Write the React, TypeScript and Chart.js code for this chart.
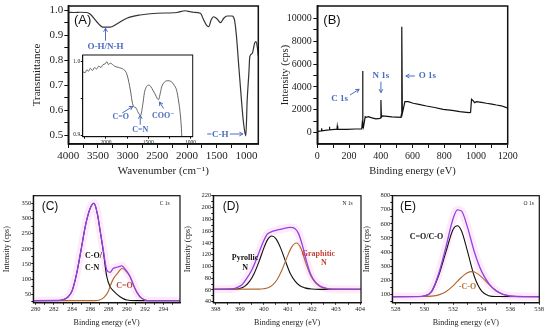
import React, { useEffect, useRef } from "react";
import { Chart, registerables } from "chart.js";
Chart.register(...registerables);

const SERIF = '"Liberation Serif", "DejaVu Serif", serif';
const SANS = '"Liberation Sans", Arial, sans-serif';
const BLUE = "#4a6cc0";
const PURPLE = "#8e44e0";
const ORANGE = "#b0652a";
const GLOW = "rgba(255,150,235,0.2)";

// ---------- Panel A : FTIR ----------
const ftirWavenumber = [4000, 3900, 3800, 3690, 3634, 3521, 3410, 3297, 3184, 3015, 2791, 2509, 2172, 2032, 1944, 1892, 1775, 1720, 1662, 1635, 1595, 1551, 1493, 1437, 1382, 1324, 1240, 1201, 1167, 1128, 1088, 1054, 1027, 1010, 987, 959, 943, 902, 863, 841, 818, 800];
const ftirTransmittance = [0.992, 0.991, 0.992, 0.991, 0.985, 0.954, 0.932, 0.932, 0.945, 0.968, 0.981, 0.988, 0.991, 0.998, 0.994, 0.992, 0.988, 0.961, 0.937, 0.934, 0.961, 0.974, 0.965, 0.95, 0.968, 0.977, 0.977, 0.961, 0.894, 0.773, 0.653, 0.559, 0.512, 0.497, 0.64, 0.747, 0.814, 0.827, 0.867, 0.874, 0.854, 0.818];
const ftirXMajor = [4000, 3500, 3000, 2500, 2000, 1500, 1000];
const ftirXMinor = [3750, 3250, 2750, 2250, 1750, 1250];
const ftirYMajor = [0.5, 0.6, 0.7, 0.8, 0.9, 1.0];
const ftirYMinor = [0.55, 0.65, 0.75, 0.85, 0.95];

// inset
const insetWavenumber = [2270, 2245, 2225, 2205, 2185, 2160, 2135, 2110, 2085, 2060, 2035, 2010, 1990, 1970, 1950, 1900, 1850, 1800, 1760, 1735, 1710, 1686, 1665, 1645, 1625, 1605, 1590, 1567, 1545, 1520, 1495, 1470, 1445, 1420, 1395, 1380, 1362, 1340, 1310, 1270, 1230, 1195, 1165, 1140, 1125, 1112, 1100];
const insetTransmittance = [0.986, 0.985, 0.989, 0.987, 0.991, 0.988, 0.992, 0.99, 0.994, 0.992, 0.996, 0.997, 1.0, 0.996, 0.998, 0.994, 0.992, 0.99, 0.985, 0.975, 0.96, 0.943, 0.938, 0.937, 0.932, 0.928, 0.927, 0.94, 0.958, 0.966, 0.968, 0.966, 0.961, 0.956, 0.95, 0.948, 0.955, 0.966, 0.972, 0.974, 0.973, 0.968, 0.961, 0.945, 0.932, 0.915, 0.89];
const insetXMajor = [2000, 1500, 1000];
const insetXMinor = [2250, 1750, 1250];
const insetYMajor = [0.9, 1.0];
const insetYMinor = [0.95];

// ---------- Panel B : XPS survey ----------
const surveyEnergy = [0, 15, 25, 27, 30, 60, 74, 76, 79, 110, 124, 126, 129, 185, 240, 280, 283, 285.5, 288, 291, 296, 302, 308, 322, 345, 370, 395, 398, 401, 404, 411, 440, 470, 500, 527, 530, 532.5, 536, 541, 552, 573, 604, 640, 688, 740, 793, 850, 898, 940, 961, 966, 972, 982, 992, 1003, 1035, 1066, 1100, 1129, 1160, 1192, 1200];
const surveyIntensity = [90, 130, 150, 380, 170, 220, 240, 520, 250, 290, 300, 580, 310, 297, 320, 330, 800, 5390, 600, 500, 900, 1400, 1350, 1400, 1300, 1200, 1255, 1300, 2860, 1350, 1460, 1420, 1380, 1360, 1345, 1600, 9270, 1690, 1985, 2710, 2710, 2570, 2480, 2334, 2200, 2045, 1950, 1836, 1780, 1748, 1780, 2920, 2800, 2620, 2710, 2650, 2570, 2500, 2420, 2350, 2185, 2170];
const surveyXMajor = [0, 200, 400, 600, 800, 1000, 1200];
const surveyXMinor = [100, 300, 500, 700, 900, 1100];
const surveyYMajor = [0, 2000, 4000, 6000, 8000, 10000];
const surveyYMinor = [1000, 3000, 5000, 7000, 9000];

// ---------- Panel C : C 1s ----------
const c1sEnvelopeX = [279, 282.5, 283, 283.5, 284, 284.5, 285, 285.5, 286, 286.4, 286.8, 287, 287.4, 287.8, 288.15, 288.5, 289, 289.45, 289.8, 290.3, 290.8, 291.1, 291.5, 292, 292.5, 297];
const c1sEnvelopeY = [29, 29.5, 32, 40, 62, 119, 200, 282, 335, 350, 311, 274, 200, 130, 122, 135, 140, 144, 133, 112, 76, 57, 40, 31, 29, 29];
const c1sCOX = [279, 282.5, 283, 283.5, 284, 284.5, 285, 285.5, 286, 286.4, 286.8, 287, 287.4, 287.8, 288.15, 288.5, 289.25, 290, 291, 297];
const c1sCOY = [29, 29.5, 32, 40, 62, 119, 200, 282, 335, 350, 310, 272, 195, 108, 76, 62, 42, 31, 29, 29];
const c1sCdOX = [279, 286.5, 287, 287.5, 288, 288.15, 288.5, 289, 289.45, 289.8, 290.3, 290.8, 291.1, 291.5, 292, 292.5, 297];
const c1sCdOY = [29, 29, 31, 40, 62, 75, 100, 120, 135, 130, 110, 75, 56, 40, 31, 29, 29];
const c1sXMajor = [280, 282, 284, 286, 288, 290, 292, 294];
const c1sXMinor = [281, 283, 285, 287, 289, 291, 293, 295];
const c1sYMajor = [50, 100, 150, 200, 250, 300, 350];
const c1sYMinor = [25, 75, 125, 175, 225, 275, 325];

// ---------- Panel D : N 1s ----------
const n1sEnvelopeX = [397, 398.5, 398.8, 399.08, 399.29, 399.5, 399.68, 399.84, 400.01, 400.15, 400.33, 400.54, 400.81, 401.09, 401.3, 401.44, 401.62, 401.78, 401.95, 402.13, 402.34, 402.61, 402.89, 405];
const n1sEnvelopeY = [61, 61, 62.7, 68.3, 79.6, 93.8, 110.8, 127.8, 144.7, 154.9, 158.9, 161.7, 164, 166.2, 164, 156, 133.4, 108, 86.4, 74, 66.6, 62.7, 61, 61];
const n1sPyrrolicX = [397, 398.8, 399.0, 399.2, 399.4, 399.6, 399.8, 400.0, 400.15, 400.33, 400.5, 400.7, 400.88, 401.1, 401.3, 401.5, 401.7, 402.0, 402.3, 405];
const n1sPyrrolicY = [61, 61.3, 62.5, 66, 74, 88, 108, 131, 145, 151.5, 147, 131, 111, 88, 75, 67, 63.5, 61.5, 61, 61];
const n1sGraphiticX = [397, 399.8, 400.0, 400.15, 400.35, 400.55, 400.75, 400.95, 401.15, 401.35, 401.55, 401.75, 401.95, 402.15, 402.35, 402.55, 402.75, 405];
const n1sGraphiticY = [61, 61.3, 62, 63.2, 67.7, 77.2, 93.3, 114, 132.2, 139.6, 130, 105, 84, 72, 65.5, 62.5, 61.3, 61];
const n1sXMajor = [398, 399, 400, 401, 402, 403, 404];
const n1sXMinor = [398.5, 399.5, 400.5, 401.5, 402.5, 403.5];
const n1sYMajor = [40, 60, 80, 100, 120, 140, 160, 180, 200, 220];
const n1sYMinor = [50, 70, 90, 110, 130, 150, 170, 190, 210];

// ---------- Panel E : O 1s ----------
const o1sEnvelopeX = [527, 529.5, 530, 530.5, 531, 531.5, 532, 532.3, 532.6, 533, 533.5, 534, 534.5, 535, 535.5, 536, 536.5, 537, 539];
const o1sEnvelopeY = [83.5, 84, 88.8, 121.5, 247.5, 435, 636.5, 700, 690.5, 578.5, 397, 261, 176.5, 126, 99.3, 88, 84.5, 83.5, 83.5];
const o1sCOX = [527, 529.5, 530, 530.5, 531, 531.5, 532, 532.3, 532.6, 533, 533.5, 534, 534.5, 535, 539];
const o1sCOY = [83.5, 84, 88, 118, 235, 400, 560, 587, 548, 409, 223, 122, 90, 84, 83.5];
const o1sCOsingleX = [527, 530, 530.5, 531, 531.5, 532, 532.5, 533, 533.3, 533.5, 534, 534.5, 535, 535.5, 536, 536.5, 539];
const o1sCOsingleY = [83.5, 84.3, 87, 96, 118.7, 159.8, 212.4, 253, 261, 257.5, 222.5, 170, 125.4, 99.3, 88.1, 84.5, 83.5];
const o1sXMajor = [528, 530, 532, 534, 536, 538];
const o1sXMinor = [529, 531, 533, 535, 537];
const o1sYMajor = [100, 200, 300, 400, 500, 600, 700, 800];
const o1sYMinor = [50, 150, 250, 350, 450, 550, 650, 750];

type Note =
  | { kind: "text"; text: string; x: number; y: number; font: string; color: string; align?: CanvasTextAlign }
  | { kind: "arrow"; x1: number; y1: number; x2: number; y2: number; color: string };

type AxisSpec = {
  min: number; max: number; reverse?: boolean; majors: number[]; minors: number[]; digits?: number;
  title?: string; titleSize: number; titlePad: number; tickSize: number; tickLen: number; tickPad: number; size: number;
};

function axis(spec: AxisSpec, horizontal: boolean, border: number) {
  return {
    type: "linear",
    bounds: "data",
    min: spec.min,
    max: spec.max,
    reverse: !!spec.reverse,
    afterBuildTicks: (s: any) => {
      s.ticks = [...spec.majors, ...spec.minors].sort((a, b) => a - b).map((v) => ({ value: v }));
    },
    afterFit: (s: any) => {
      if (horizontal) s.height = spec.size;
      else s.width = spec.size;
      s.paddingLeft = 0; s.paddingRight = 0; s.paddingTop = 0; s.paddingBottom = 0;
    },
    ticks: {
      autoSkip: false, maxRotation: 0, minRotation: 0, padding: spec.tickPad, color: "#222",
      font: { family: SERIF, size: spec.tickSize },
      callback: (v: number) => (spec.majors.indexOf(v) >= 0 ? (spec.digits ? v.toFixed(spec.digits) : String(v)) : ""),
    },
    grid: { display: true, drawOnChartArea: false, drawTicks: true, tickLength: spec.tickLen, color: "#111", lineWidth: 1 },
    border: { display: true, color: "#111", width: border },
    title: {
      display: !!spec.title, text: spec.title || "", color: "#222",
      font: { family: SERIF, size: spec.titleSize },
      padding: horizontal ? { top: 0, bottom: spec.titlePad } : { top: spec.titlePad, bottom: 0 },
    },
  };
}

function series(xs: number[], ys: number[], color: string, width: number, smooth = true) {
  return {
    data: xs.map((x, i) => ({ x, y: ys[i] })),
    borderColor: color, borderWidth: width, pointRadius: 0, fill: false,
    cubicInterpolationMode: smooth ? "monotone" : "default", tension: smooth ? 0.4 : 0,
  };
}

function notesPlugin(items: Note[], frameWidth: number, whiteBg: boolean) {
  return {
    id: "notes",
    beforeDraw(chart: any) {
      if (!whiteBg) return;
      const { ctx, chartArea: a } = chart;
      ctx.save(); ctx.fillStyle = "#fff"; ctx.fillRect(a.left, a.top, a.right - a.left, a.bottom - a.top); ctx.restore();
    },
    afterDraw(chart: any) {
      const { ctx, chartArea: a } = chart;
      const xs = chart.scales.x, ys = chart.scales.y;
      ctx.save();
      ctx.strokeStyle = "#111"; ctx.lineWidth = frameWidth;
      ctx.strokeRect(a.left, a.top, a.right - a.left, a.bottom - a.top);
      for (const it of items) {
        if (it.kind === "text") {
          ctx.font = it.font; ctx.fillStyle = it.color; ctx.textAlign = it.align || "center"; ctx.textBaseline = "middle";
          ctx.fillText(it.text, xs.getPixelForValue(it.x), ys.getPixelForValue(it.y));
        } else {
          const x1 = xs.getPixelForValue(it.x1), y1 = ys.getPixelForValue(it.y1);
          const x2 = xs.getPixelForValue(it.x2), y2 = ys.getPixelForValue(it.y2);
          const ang = Math.atan2(y2 - y1, x2 - x1), h = 4;
          ctx.strokeStyle = it.color; ctx.lineWidth = 1;
          ctx.beginPath(); ctx.moveTo(x1, y1); ctx.lineTo(x2, y2);
          ctx.moveTo(x2 - h * Math.cos(ang - 0.5), y2 - h * Math.sin(ang - 0.5)); ctx.lineTo(x2, y2);
          ctx.lineTo(x2 - h * Math.cos(ang + 0.5), y2 - h * Math.sin(ang + 0.5));
          ctx.stroke();
        }
      }
      ctx.restore();
    },
  };
}

const bold = (s: number) => `bold ${s}px ${SERIF}`;

const PANELS: any[] = [
  {
    left: 0, top: 0, w: 282, h: 182, pad: { left: 0, top: 6, right: 23.7, bottom: 0 }, frame: 1.5,
    x: { min: 800, max: 4000, reverse: true, majors: ftirXMajor, minors: ftirXMinor, title: "Wavenumber (cm\u207B\u00B9)", titleSize: 11, titlePad: 4.4, tickSize: 11, tickLen: 4, tickPad: 2, size: 38 },
    y: { min: 0.464, max: 1.017, majors: ftirYMajor, minors: ftirYMinor, digits: 1, title: "Transmittance", titleSize: 11, titlePad: 30.1, tickSize: 11, tickLen: 4, tickPad: 1, size: 68.3 },
    datasets: [series(ftirWavenumber, ftirTransmittance, "#333", 1.2)],
    notes: [
      { kind: "text", text: "(A)", x: 3904, y: 0.959, font: `13px ${SANS}`, color: "#111", align: "left" },
      { kind: "text", text: "O-H/N-H", x: 3373, y: 0.854, font: bold(9), color: BLUE },
      { kind: "arrow", x1: 3373, y1: 0.878, x2: 3373, y2: 0.928, color: BLUE },
      { kind: "text", text: "=C-H", x: 1484, y: 0.502, font: bold(9), color: BLUE },
      { kind: "arrow", x1: 1280, y1: 0.504, x2: 1060, y2: 0.504, color: BLUE },
    ],
  },
  {
    left: 55, top: 45, w: 150, h: 105, pad: { left: 0, top: 10, right: 12.3, bottom: 0 }, frame: 1, white: true,
    x: { min: 975, max: 2275, reverse: true, majors: insetXMajor, minors: insetXMinor, titleSize: 5, titlePad: 0, tickSize: 5.5, tickLen: 2, tickPad: 1, size: 13.3 },
    y: { min: 0.8977, max: 1.0091, majors: insetYMajor, minors: insetYMinor, digits: 1, titleSize: 5, titlePad: 0, tickSize: 5.5, tickLen: 2, tickPad: 0.5, size: 27.7 },
    datasets: [series(insetWavenumber, insetTransmittance, "#555", 0.9)],
    notes: [
      { kind: "text", text: "C=O", x: 1825, y: 0.924, font: bold(8), color: BLUE },
      { kind: "arrow", x1: 1808, y1: 0.93, x2: 1683, y2: 0.939, color: BLUE },
      { kind: "text", text: "C=N", x: 1595, y: 0.907, font: bold(8), color: BLUE },
      { kind: "arrow", x1: 1595, y1: 0.914, x2: 1595, y2: 0.927, color: BLUE },
      { kind: "text", text: "COO\u207B", x: 1323, y: 0.926, font: bold(8), color: BLUE },
      { kind: "arrow", x1: 1318, y1: 0.936, x2: 1368, y2: 0.945, color: BLUE },
    ],
  },
  {
    left: 270, top: 0, w: 280, h: 182, pad: { left: 0, top: 6, right: 42.3, bottom: 0 }, frame: 1.5,
    x: { min: 0, max: 1200, majors: surveyXMajor, minors: surveyXMinor, title: "Binding energy (eV)", titleSize: 10.5, titlePad: 4.7, tickSize: 10, tickLen: 4, tickPad: 2, size: 38 },
    y: { min: -990, max: 11075, majors: surveyYMajor, minors: surveyYMinor, title: "Intensity (cps)", titleSize: 10.5, titlePad: 8.7, tickSize: 10, tickLen: 4, tickPad: 1.5, size: 47.3 },
    datasets: [series(surveyEnergy, surveyIntensity, "#111", 1.2, false)],
    notes: [
      { kind: "text", text: "(B)", x: 38, y: 9790, font: `13px ${SANS}`, color: "#111", align: "left" },
      { kind: "text", text: "C 1s", x: 140, y: 3007, font: bold(9), color: BLUE },
      { kind: "arrow", x1: 206, y1: 3295, x2: 264, y2: 3794, color: BLUE },
      { kind: "text", text: "N 1s", x: 401, y: 4956, font: bold(9), color: BLUE },
      { kind: "arrow", x1: 401, y1: 4458, x2: 401, y2: 3497, color: BLUE },
      { kind: "arrow", x1: 615, y1: 4956, x2: 558, y2: 4956, color: BLUE },
      { kind: "text", text: "O 1s", x: 693, y: 4956, font: bold(9), color: BLUE },
    ],
  },
  {
    left: 0, top: 178, w: 185, h: 155, pad: { left: 0, top: 17.7, right: 5, bottom: 0 }, frame: 1.2,
    x: { min: 279.74, max: 295.83, majors: c1sXMajor, minors: c1sXMinor, title: "Binding energy (eV)", titleSize: 8, titlePad: 4.9, tickSize: 6.5, tickLen: 2, tickPad: 0.5, size: 30.3 },
    y: { min: 22.3, max: 375.1, majors: c1sYMajor, minors: c1sYMinor, title: "Intensity (cps)", titleSize: 8, titlePad: 2.5, tickSize: 6.5, tickLen: 2, tickPad: 0, size: 33.3 },
    datasets: [
      series(c1sEnvelopeX, c1sEnvelopeY, PURPLE, 1.3),
      series(c1sCdOX, c1sCdOY, ORANGE, 1.1),
      series(c1sCOX, c1sCOY, "#111", 1.1),
      series(c1sEnvelopeX, c1sEnvelopeY, GLOW, 8),
    ],
    notes: [
      { kind: "text", text: "(C)", x: 280.66, y: 338.8, font: `12px ${SANS}`, color: "#111", align: "left" },
      { kind: "text", text: "C 1s", x: 294.15, y: 347.7, font: `5.5px ${SERIF}`, color: "#222" },
      { kind: "text", text: "C-O/", x: 285.41, y: 176.3, font: bold(8), color: "#111", align: "left" },
      { kind: "text", text: "C-N", x: 285.41, y: 135.7, font: bold(8), color: "#111", align: "left" },
      { kind: "text", text: "C=O", x: 289.74, y: 77.4, font: bold(8), color: "#b5482a" },
    ],
  },
  {
    left: 180, top: 178, w: 185, h: 155, pad: { left: 0, top: 17.7, right: 4, bottom: 0 }, frame: 1.2,
    x: { min: 397.9, max: 404.04, majors: n1sXMajor, minors: n1sXMinor, title: "Binding energy (eV)", titleSize: 8, titlePad: 4.9, tickSize: 6.5, tickLen: 2, tickPad: 0.5, size: 30.3 },
    y: { min: 38.3, max: 220, majors: n1sYMajor, minors: n1sYMinor, title: "Intensity (cps)", titleSize: 8, titlePad: 3.2, tickSize: 6.5, tickLen: 2, tickPad: 0, size: 33.3 },
    datasets: [
      series(n1sEnvelopeX, n1sEnvelopeY, PURPLE, 1.3),
      series(n1sGraphiticX, n1sGraphiticY, ORANGE, 1.1),
      series(n1sPyrrolicX, n1sPyrrolicY, "#111", 1.1),
      series(n1sEnvelopeX, n1sEnvelopeY, GLOW, 8),
    ],
    notes: [
      { kind: "text", text: "(D)", x: 398.29, y: 201.5, font: `12px ${SANS}`, color: "#111", align: "left" },
      { kind: "text", text: "N 1s", x: 403.48, y: 206, font: `5.5px ${SERIF}`, color: "#222" },
      { kind: "text", text: "Pyrollic", x: 399.22, y: 113.5, font: bold(8), color: "#111" },
      { kind: "text", text: "N", x: 399.22, y: 97.9, font: bold(8), color: "#111" },
      { kind: "text", text: "Graphitic", x: 402.27, y: 121.9, font: bold(8), color: "#c8423a" },
      { kind: "text", text: "N", x: 402.5, y: 106.3, font: bold(8), color: "#c8423a" },
    ],
  },
  {
    left: 360, top: 178, w: 190, h: 155, pad: { left: 0, top: 17.7, right: 10.7, bottom: 0 }, frame: 1.2,
    x: { min: 527.76, max: 538.02, majors: o1sXMajor, minors: o1sXMinor, title: "Binding energy (eV)", titleSize: 8, titlePad: 4.9, tickSize: 6.5, tickLen: 2, tickPad: 0.5, size: 30.3 },
    y: { min: 40.4, max: 800, majors: o1sYMajor, minors: o1sYMinor, title: "Intensity (cps)", titleSize: 8, titlePad: 2.5, tickSize: 6.5, tickLen: 2, tickPad: 0, size: 32.3 },
    datasets: [
      series(o1sEnvelopeX, o1sEnvelopeY, PURPLE, 1.3),
      series(o1sCOsingleX, o1sCOsingleY, ORANGE, 1.1),
      series(o1sCOX, o1sCOY, "#111", 1.1),
      series(o1sEnvelopeX, o1sEnvelopeY, GLOW, 8),
    ],
    notes: [
      { kind: "text", text: "(E)", x: 528.3, y: 721.9, font: `12px ${SANS}`, color: "#111", align: "left" },
      { kind: "text", text: "O 1s", x: 537.28, y: 741, font: `5.5px ${SERIF}`, color: "#222" },
      { kind: "text", text: "C=O/C-O", x: 530.14, y: 504.5, font: bold(8), color: "#111" },
      { kind: "text", text: "-C-O", x: 533.01, y: 149.4, font: bold(8), color: "#b87333" },
    ],
  },
];

export default function App() {
  const refs = useRef<(HTMLCanvasElement | null)[]>([]);
  useEffect(() => {
    const charts = PANELS.map((p, i) => {
      const canvas = refs.current[i] as HTMLCanvasElement;
      return new Chart(canvas, {
        type: "line",
        data: { datasets: p.datasets },
        options: {
          responsive: false, maintainAspectRatio: false, animation: false, events: [],
          layout: { padding: p.pad },
          plugins: { legend: { display: false }, tooltip: { enabled: false } },
          scales: { x: axis(p.x, true, p.frame), y: axis(p.y, false, p.frame) },
        } as any,
        plugins: [notesPlugin(p.notes, p.frame, !!p.white)],
      } as any);
    });
    return () => charts.forEach((c) => c.destroy());
  }, []);
  return (
    <div style={{ position: "absolute", left: 0, top: 0, width: 550, height: 333, background: "#fff", overflow: "hidden" }}>
      {PANELS.map((p, i) => (
        <canvas
          key={i}
          ref={(el) => { refs.current[i] = el; }}
          width={p.w}
          height={p.h}
          style={{ position: "absolute", left: p.left, top: p.top, width: p.w, height: p.h }}
        />
      ))}
    </div>
  );
}
